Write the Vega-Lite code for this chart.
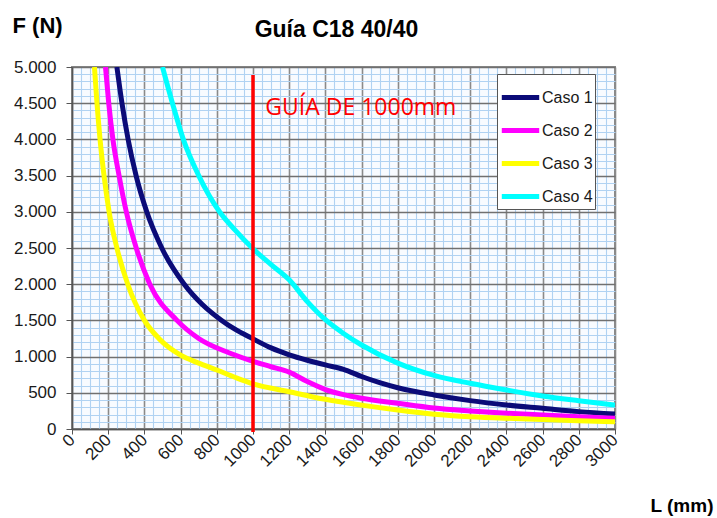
{
  "$schema": "https://vega.github.io/schema/vega-lite/v6.json",
  "width": 543,
  "height": 362,
  "autosize": {"type": "none"},
  "padding": {"left": 72, "top": 67, "right": 102, "bottom": 89},
  "background": "white",
  "title": {
    "text": "Guía C18 40/40",
    "font": "Liberation Sans",
    "fontSize": 23,
    "fontWeight": "bold",
    "color": "#000000",
    "anchor": "middle",
    "dx": -7,
    "baseline": "alphabetic",
    "offset": -46
  },
  "datasets": {
    "curves": [
      {"L": 248, "F": 5000, "caso": "Caso 1"},
      {"L": 276, "F": 4500, "caso": "Caso 1"},
      {"L": 310, "F": 4000, "caso": "Caso 1"},
      {"L": 354, "F": 3500, "caso": "Caso 1"},
      {"L": 413, "F": 3000, "caso": "Caso 1"},
      {"L": 496, "F": 2500, "caso": "Caso 1"},
      {"L": 620, "F": 2000, "caso": "Caso 1"},
      {"L": 720, "F": 1720, "caso": "Caso 1"},
      {"L": 827, "F": 1500, "caso": "Caso 1"},
      {"L": 900, "F": 1378, "caso": "Caso 1"},
      {"L": 1000, "F": 1245, "caso": "Caso 1"},
      {"L": 1100, "F": 1120, "caso": "Caso 1"},
      {"L": 1200, "F": 1025, "caso": "Caso 1"},
      {"L": 1300, "F": 950, "caso": "Caso 1"},
      {"L": 1400, "F": 885, "caso": "Caso 1"},
      {"L": 1500, "F": 825, "caso": "Caso 1"},
      {"L": 1600, "F": 725, "caso": "Caso 1"},
      {"L": 1700, "F": 640, "caso": "Caso 1"},
      {"L": 1800, "F": 570, "caso": "Caso 1"},
      {"L": 2000, "F": 470, "caso": "Caso 1"},
      {"L": 2200, "F": 392, "caso": "Caso 1"},
      {"L": 2400, "F": 332, "caso": "Caso 1"},
      {"L": 2600, "F": 286, "caso": "Caso 1"},
      {"L": 2800, "F": 240, "caso": "Caso 1"},
      {"L": 3000, "F": 207, "caso": "Caso 1"},

      {"L": 185, "F": 5000, "caso": "Caso 2"},
      {"L": 203, "F": 4500, "caso": "Caso 2"},
      {"L": 226, "F": 4000, "caso": "Caso 2"},
      {"L": 260, "F": 3500, "caso": "Caso 2"},
      {"L": 300, "F": 3000, "caso": "Caso 2"},
      {"L": 355, "F": 2500, "caso": "Caso 2"},
      {"L": 430, "F": 2000, "caso": "Caso 2"},
      {"L": 580, "F": 1500, "caso": "Caso 2"},
      {"L": 700, "F": 1250, "caso": "Caso 2"},
      {"L": 870, "F": 1050, "caso": "Caso 2"},
      {"L": 1000, "F": 935, "caso": "Caso 2"},
      {"L": 1100, "F": 860, "caso": "Caso 2"},
      {"L": 1200, "F": 785, "caso": "Caso 2"},
      {"L": 1300, "F": 655, "caso": "Caso 2"},
      {"L": 1400, "F": 545, "caso": "Caso 2"},
      {"L": 1500, "F": 475, "caso": "Caso 2"},
      {"L": 1600, "F": 425, "caso": "Caso 2"},
      {"L": 1800, "F": 355, "caso": "Caso 2"},
      {"L": 2000, "F": 290, "caso": "Caso 2"},
      {"L": 2200, "F": 250, "caso": "Caso 2"},
      {"L": 2400, "F": 218, "caso": "Caso 2"},
      {"L": 2600, "F": 193, "caso": "Caso 2"},
      {"L": 2800, "F": 170, "caso": "Caso 2"},
      {"L": 3000, "F": 148, "caso": "Caso 2"},

      {"L": 124, "F": 5000, "caso": "Caso 3"},
      {"L": 138, "F": 4500, "caso": "Caso 3"},
      {"L": 155, "F": 4000, "caso": "Caso 3"},
      {"L": 177, "F": 3500, "caso": "Caso 3"},
      {"L": 205, "F": 3000, "caso": "Caso 3"},
      {"L": 248, "F": 2500, "caso": "Caso 3"},
      {"L": 308, "F": 2000, "caso": "Caso 3"},
      {"L": 400, "F": 1500, "caso": "Caso 3"},
      {"L": 480, "F": 1250, "caso": "Caso 3"},
      {"L": 600, "F": 1020, "caso": "Caso 3"},
      {"L": 700, "F": 910, "caso": "Caso 3"},
      {"L": 800, "F": 815, "caso": "Caso 3"},
      {"L": 900, "F": 715, "caso": "Caso 3"},
      {"L": 1000, "F": 625, "caso": "Caso 3"},
      {"L": 1200, "F": 515, "caso": "Caso 3"},
      {"L": 1400, "F": 410, "caso": "Caso 3"},
      {"L": 1600, "F": 330, "caso": "Caso 3"},
      {"L": 1800, "F": 262, "caso": "Caso 3"},
      {"L": 2000, "F": 205, "caso": "Caso 3"},
      {"L": 2200, "F": 170, "caso": "Caso 3"},
      {"L": 2400, "F": 148, "caso": "Caso 3"},
      {"L": 2600, "F": 132, "caso": "Caso 3"},
      {"L": 2800, "F": 115, "caso": "Caso 3"},
      {"L": 3000, "F": 101, "caso": "Caso 3"},

      {"L": 500, "F": 5000, "caso": "Caso 4"},
      {"L": 555, "F": 4500, "caso": "Caso 4"},
      {"L": 615, "F": 4000, "caso": "Caso 4"},
      {"L": 700, "F": 3500, "caso": "Caso 4"},
      {"L": 815, "F": 3000, "caso": "Caso 4"},
      {"L": 900, "F": 2750, "caso": "Caso 4"},
      {"L": 1000, "F": 2490, "caso": "Caso 4"},
      {"L": 1100, "F": 2270, "caso": "Caso 4"},
      {"L": 1200, "F": 2060, "caso": "Caso 4"},
      {"L": 1300, "F": 1760, "caso": "Caso 4"},
      {"L": 1400, "F": 1510, "caso": "Caso 4"},
      {"L": 1500, "F": 1320, "caso": "Caso 4"},
      {"L": 1600, "F": 1160, "caso": "Caso 4"},
      {"L": 1800, "F": 910, "caso": "Caso 4"},
      {"L": 2000, "F": 740, "caso": "Caso 4"},
      {"L": 2200, "F": 631, "caso": "Caso 4"},
      {"L": 2400, "F": 539, "caso": "Caso 4"},
      {"L": 2600, "F": 456, "caso": "Caso 4"},
      {"L": 2800, "F": 391, "caso": "Caso 4"},
      {"L": 3000, "F": 331, "caso": "Caso 4"}
    ],
    "guide": [
      {"L": 1000, "F0": -40, "F1": 4890}
    ],
    "note": [
      {"L": 1068, "F": 4434, "label": "GUÍA DE 1000mm"}
    ]
  },
  "layer": [
    {
      "data": {"name": "curves"},
      "mark": {"type": "line", "interpolate": "monotone", "clip": true, "strokeCap": "butt"},
      "encoding": {
        "x": {
          "field": "L",
          "type": "quantitative",
          "scale": {"domain": [0, 3000], "nice": false},
          "axis": {
            "values": [0,50,100,150,200,250,300,350,400,450,500,550,600,650,700,750,800,850,900,950,1000,1050,1100,1150,1200,1250,1300,1350,1400,1450,1500,1550,1600,1650,1700,1750,1800,1850,1900,1950,2000,2050,2100,2150,2200,2250,2300,2350,2400,2450,2500,2550,2600,2650,2700,2750,2800,2850,2900,2950,3000],
            "tickCount": 500,
            "labelExpr": "datum.value % 200 === 0 ? datum.value + '' : ''",
            "labelOverlap": false,
            "labelAngle": -45,
            "labelAlign": "right",
            "labelBaseline": "middle",
            "labelFont": "Liberation Sans",
            "labelFontSize": 17,
            "labelColor": "#1a1a1a",
            "labelPadding": 3,
            "tickSize": 5,
            "tickColor": "#555555",
            "tickOpacity": {"condition": {"test": "datum.value % 200 === 0", "value": 1}, "value": 0},
            "domainColor": "#555555",
            "domainWidth": 1.5,
            "grid": true,
            "gridColor": {"condition": {"test": "datum.value % 200 === 0", "value": "#8a8a8a"}, "value": "#b0d2f2"},
            "gridWidth": {"condition": {"test": "datum.value % 200 === 0", "value": 1.6}, "value": 1.1},
            "gridOpacity": 1,
            "title": "L (mm)",
            "titleFont": "Liberation Sans",
            "titleFontSize": 19,
            "titleFontWeight": "bold",
            "titleColor": "#000000",
            "titleAlign": "left",
            "titleBaseline": "alphabetic",
            "titleAnchor": "start",
            "titleX": 578,
            "titleY": 82
          }
        },
        "y": {
          "field": "F",
          "type": "quantitative",
          "scale": {"domain": [0, 5000], "nice": false},
          "axis": {
            "values": [0,100,200,300,400,500,600,700,800,900,1000,1100,1200,1300,1400,1500,1600,1700,1800,1900,2000,2100,2200,2300,2400,2500,2600,2700,2800,2900,3000,3100,3200,3300,3400,3500,3600,3700,3800,3900,4000,4100,4200,4300,4400,4500,4600,4700,4800,4900,5000],
            "tickCount": 500,
            "labelExpr": "datum.value % 500 === 0 ? replace(format(datum.value, ','), ',', '.') : ''",
            "labelOverlap": false,
            "labelFont": "Liberation Sans",
            "labelFontSize": 17,
            "labelColor": "#1a1a1a",
            "labelPadding": 10,
            "tickSize": 6,
            "tickColor": "#555555",
            "tickOpacity": {"condition": {"test": "datum.value % 500 === 0", "value": 1}, "value": 0},
            "domainColor": "#555555",
            "domainWidth": 1.5,
            "grid": true,
            "gridColor": {"condition": {"test": "datum.value % 500 === 0", "value": "#707070"}, "value": "#b0d2f2"},
            "gridWidth": {"condition": {"test": "datum.value % 500 === 0", "value": 1.6}, "value": 1.1},
            "gridOpacity": 1,
            "title": "F (N)",
            "titleFont": "Liberation Sans",
            "titleFontSize": 22,
            "titleFontWeight": "bold",
            "titleColor": "#000000",
            "titleAngle": 0,
            "titleAlign": "left",
            "titleBaseline": "alphabetic",
            "titleX": -60,
            "titleY": -35
          }
        },
        "color": {
          "field": "caso",
          "type": "nominal",
          "scale": {
            "domain": ["Caso 1", "Caso 2", "Caso 3", "Caso 4"],
            "range": ["#0b0b78", "#ff00ff", "#ffff00", "#00ffff"]
          },
          "legend": {
            "title": null,
            "orient": "none",
            "legendX": 425,
            "legendY": 7,
            "symbolType": "stroke",
            "symbolSize": 1400,
            "symbolStrokeWidth": 5,
            "labelFont": "Liberation Sans",
            "labelFontSize": 16,
            "labelColor": "#1a1a1a",
            "labelOffset": 0,
            "rowPadding": 1,
            "padding": 2,
            "fillColor": "#ffffff",
            "strokeColor": "#555555",
            "offset": 0
          }
        },
        "strokeWidth": {
          "field": "caso",
          "type": "nominal",
          "scale": {
            "domain": ["Caso 1", "Caso 2", "Caso 3", "Caso 4"],
            "range": [5, 5, 5.5, 3.5]
          },
          "legend": null
        }
      }
    },
    {
      "data": {"name": "guide"},
      "mark": {"type": "rule", "color": "#ff0000", "strokeWidth": 3.5},
      "encoding": {
        "x": {"field": "L", "type": "quantitative"},
        "y": {"field": "F0", "type": "quantitative"},
        "y2": {"field": "F1"}
      }
    },
    {
      "data": {"name": "note"},
      "mark": {"type": "text", "align": "left", "baseline": "middle", "font": "Open Sans", "fontSize": 23, "color": "#ff0000"},
      "encoding": {
        "x": {"field": "L", "type": "quantitative"},
        "y": {"field": "F", "type": "quantitative"},
        "text": {"field": "label"}
      }
    }
  ],
  "config": {
    "view": {"stroke": "#8a8a8a", "strokeWidth": 2, "fill": "#f8fbff"}
  }
}
